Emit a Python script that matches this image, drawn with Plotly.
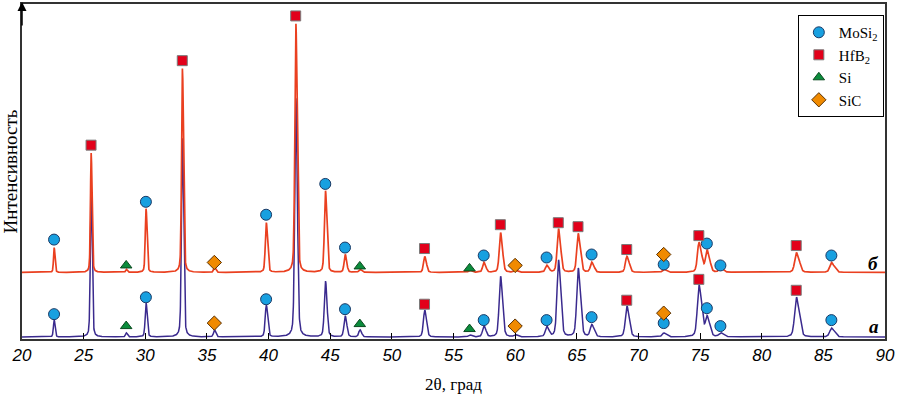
import numpy as np
import plotly.graph_objects as go

# ---- data ----
# peak positions (2theta, deg) and intensities above baseline (arb. units)
peak_pos = [22.6, 25.6, 28.45, 30.05, 33.0, 35.6, 39.8, 42.2, 44.6, 46.2, 47.4,
            52.65, 56.3, 57.45, 58.8, 60.0, 62.55, 63.5, 65.1, 66.2, 69.05,
            72.05, 74.9, 75.55, 76.65, 82.8, 85.65]
int_b = [25, 120, 3, 64, 205, 5, 50, 250, 82, 18, 3,
         16, 2, 10, 40, 2, 7, 44, 39, 10, 16,
         3, 30, 22, 5, 20, 10]
int_a = [17, 150, 4, 34, 200, 7, 32, 240, 56, 21, 7,
         27, 2, 11, 61, 2, 10, 77, 69, 12, 31,
         4, 52, 20, 4, 40, 9]
offset_b = 67
offset_a = 2

# phase markers: (2theta, level)
mosi2_x = [22.6, 30.05, 39.8, 44.6, 46.2, 57.45, 62.55, 66.2, 72.05, 75.55, 76.65, 85.65,
           22.6, 30.05, 39.8, 46.2, 57.45, 62.55, 66.2, 72.05, 75.55, 76.65, 85.65]
mosi2_y = [100, 138, 125, 156, 92, 84, 82, 85, 75, 96, 74, 84,
           25, 42, 40, 30, 19, 19, 22, 16, 31, 13, 19]
hfb2_x = [25.6, 33.0, 42.2, 52.65, 58.8, 63.5, 65.1, 69.05, 74.9, 82.8,
          52.65, 69.05, 74.9, 82.8]
hfb2_y = [195, 280, 325, 91, 115, 117, 113, 90, 104, 94,
          35, 39, 60, 49]
si_x = [28.45, 47.4, 56.3, 28.45, 47.4, 56.3]
si_y = [74, 73, 71, 13, 15, 10]
sic_x = [35.6, 60.0, 72.05, 35.6, 60.0, 72.05]
sic_y = [77, 74, 85, 16, 13, 26]

x_ticks = [20, 25, 30, 35, 40, 45, 50, 55, 60, 65, 70, 75, 80, 85, 90]

# ---- build profiles ----
x = np.linspace(20, 90, 7001)

def pv(dx, g):
    lor = g**2 / (dx**2 + g**2)
    gau = np.exp(-np.log(2) * (dx / g) ** 2)
    return 0.35 * lor + 0.65 * gau

def profile(heights, base, extra):
    y = np.full_like(x, float(base))
    for p, h in zip(peak_pos, heights):
        g = 0.055 + extra + 0.0016 * (p - 20)
        d = 0.286 * np.tan(np.radians(p / 2))
        shape = pv(x - p, g) + 0.45 * pv(x - p - d, g)
        y += h * shape / shape.max()
    return y

y_b = profile(int_b, offset_b, 0.0)
y_a = profile(int_a, offset_a, 0.012)

fig = go.Figure()
fig.add_trace(go.Scatter(x=x, y=y_a, mode="lines", line=dict(color="#3a2a8e", width=1.5),
                         showlegend=False, hoverinfo="skip"))
fig.add_trace(go.Scatter(x=x, y=y_b, mode="lines", line=dict(color="#ea4020", width=1.7),
                         showlegend=False, hoverinfo="skip"))

fig.add_trace(go.Scatter(x=mosi2_x, y=mosi2_y, mode="markers", name="MoSi<sub>2</sub>",
                         marker=dict(symbol="circle", size=11, color="#18a0e0",
                                     line=dict(color="#1a3a66", width=1))))
fig.add_trace(go.Scatter(x=hfb2_x, y=hfb2_y, mode="markers", name="HfB<sub>2</sub>",
                         marker=dict(symbol="square", size=10, color="#e2001a",
                                     line=dict(color="#7a7a7a", width=1))))
fig.add_trace(go.Scatter(x=si_x, y=si_y, mode="markers", name="Si",
                         marker=dict(symbol="triangle-up", size=10, color="#0b8c3c",
                                     line=dict(color="#0b4a20", width=1))))
fig.add_trace(go.Scatter(x=sic_x, y=sic_y, mode="markers", name="SiC",
                         marker=dict(symbol="diamond", size=11, color="#f08a00",
                                     line=dict(color="#5a3000", width=1))))

fig.add_annotation(x=89.1, y=76, text="<b><i>б</i></b>", showarrow=False,
                   font=dict(family="Liberation Serif", size=19, color="black"))
fig.add_annotation(x=89.1, y=13, text="<b><i>а</i></b>", showarrow=False,
                   font=dict(family="Liberation Serif", size=19, color="black"))
# y-axis arrow
fig.add_annotation(x=0, y=1.0, xref="paper", yref="paper", ax=0, ay=25, axref="pixel", ayref="pixel",
                   text="", showarrow=True, arrowhead=2, arrowsize=1.2, arrowwidth=1.5,
                   arrowcolor="black", yshift=2)

fig.update_layout(
    width=897, height=401,
    margin=dict(l=22, r=11, t=2, b=62),
    paper_bgcolor="white", plot_bgcolor="white",
    xaxis=dict(range=[20, 90], tickvals=x_ticks, ticktext=[str(v) for v in x_ticks],
               ticks="inside", ticklen=6, tickcolor="black", tickwidth=1,
               showline=True, linecolor="#333", linewidth=1.5, mirror=True,
               showgrid=False, zeroline=False,
               tickfont=dict(family="Liberation Sans", size=17, color="black", style="italic"),
               title=dict(text="2θ, град", font=dict(family="Liberation Serif", size=17, color="black"),
                          standoff=14)),
    yaxis=dict(range=[0, 337], showticklabels=False, ticks="",
               showline=True, linecolor="#333", linewidth=1.5, mirror=True,
               showgrid=False, zeroline=False,
               title=dict(text="Интенсивность", font=dict(family="Liberation Serif", size=19, color="black"),
                          standoff=2)),
    legend=dict(x=0.899, y=0.967, xanchor="left", yanchor="top",
                bgcolor="white", bordercolor="black", borderwidth=1,
                font=dict(family="Liberation Serif", size=15, color="black"),
                itemwidth=30, tracegroupgap=0),
)

fig.write_html("out.html")
